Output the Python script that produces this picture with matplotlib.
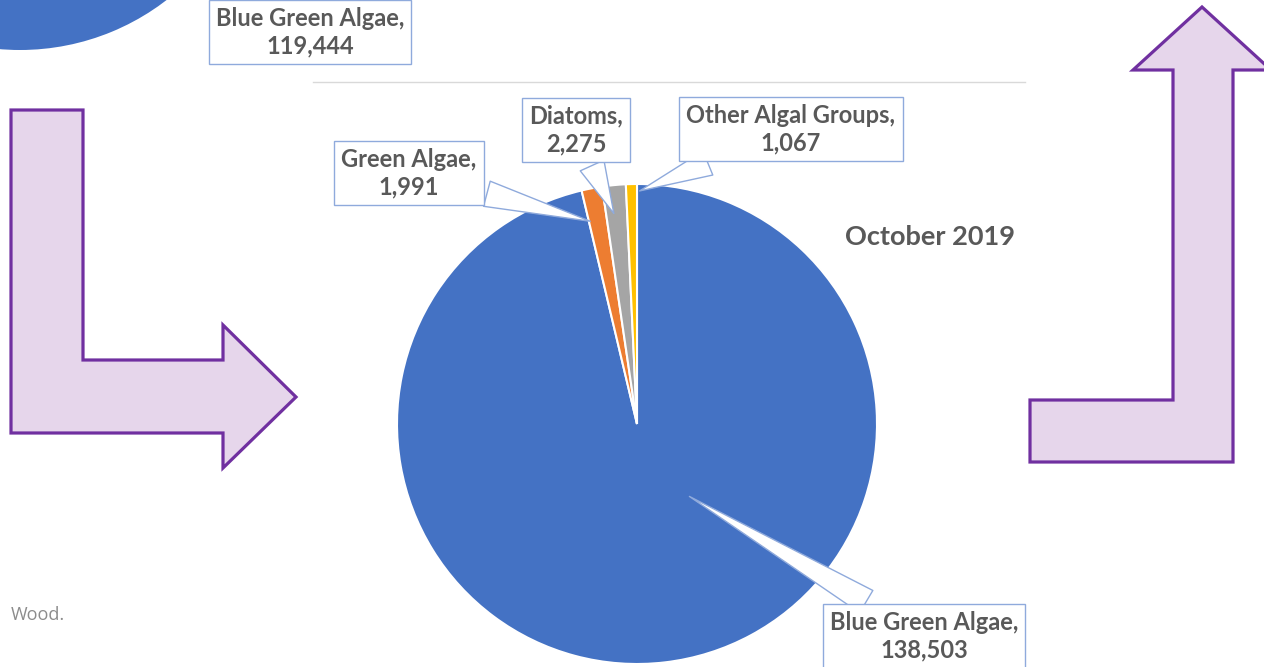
import matplotlib
matplotlib.use("Agg")
import matplotlib.pyplot as plt
from matplotlib.patches import Polygon

# Данные диаграммы (октябрь 2019)
groups = ["Blue Green Algae", "Green Algae", "Diatoms", "Other Algal Groups"]
counts = [138503, 1991, 2275, 1067]
colors = ["#4472C4", "#ED7D31", "#A5A5A5", "#FFC000"]

# Соседняя (обрезанная) диаграмма слева сверху
prev_groups = ["Blue Green Algae"]
prev_counts = [119444]

title = "October 2019"
note = "Wood."

W, H = 1264, 667


def P(x, y):
    # пиксели картинки -> координаты осей (ось y вверх)
    return (x, H - y)


fig = plt.figure(figsize=(W / 100, H / 100), dpi=100)
ax = fig.add_axes([0, 0, 1, 1])

# Обрезанная предыдущая диаграмма
ax.pie(prev_counts, colors=["#4472C4"], center=P(20, -190), radius=240,
       startangle=90, counterclock=False, frame=True)

# Основная круговая диаграмма
wedges, _ = ax.pie(counts, colors=colors, center=P(637, 424), radius=240,
                   startangle=90, counterclock=False, frame=True,
                   wedgeprops=dict(edgecolor="white", linewidth=1.5))

ax.set_xlim(0, W)
ax.set_ylim(0, H)
ax.set_aspect("equal")
ax.axis("off")

# Серая линия над областью графика
ax.plot([313, 1025], [H - 82, H - 82], color="#D9D9D9", lw=1)

# Выноски с подписями
box_centers = [(924, 636), (409, 173), (576, 130), (791, 129)]
tips = [(687, 495), (593, 222), (615, 216), (637, 192)]
label_font = dict(fontsize=17, fontweight="bold", family=["Lato", "DejaVu Sans"],
                  color="#595959", linespacing=1.25)
for name, val, bc, tip in zip(groups, counts, box_centers, tips):
    ax.annotate(f"{name},\n{val:,}", xy=P(*tip), xytext=P(*bc),
                ha="center", va="center", **label_font,
                bbox=dict(boxstyle="square,pad=0.3", fc="white", ec="#8FAADC", lw=1),
                arrowprops=dict(arrowstyle="wedge,tail_width=1.1,shrink_factor=0.5",
                                fc="white", ec="#8FAADC", lw=1,
                                connectionstyle="arc3"))

for name, val in zip(prev_groups, prev_counts):
    ax.text(310, H - 32, f"{name},\n{val:,}", ha="center", va="center", **label_font,
            bbox=dict(boxstyle="square,pad=0.3", fc="white", ec="#8FAADC", lw=1))

ax.text(930, H - 237, title, ha="center", va="center", fontsize=19.5,
        fontweight="bold", family=["Lato", "DejaVu Sans"], color="#595959")

ax.text(11, H - 615, note, ha="left", va="center", fontsize=13,
        family=["Open Sans", "DejaVu Sans"], color="#8C8C8C")

# Фиолетовые стрелки
arrow_style = dict(fc="#E6D6EB", ec="#7030A0", lw=2.3, joinstyle="miter")
left_arrow = [(11, 110), (83, 110), (83, 360), (223, 360), (223, 325), (296, 397),
              (223, 468), (223, 433), (11, 433)]
right_arrow = [(1030, 400), (1173, 400), (1173, 70), (1133, 70), (1202, 7),
               (1271, 70), (1233, 70), (1233, 462), (1030, 462)]
for pts in (left_arrow, right_arrow):
    ax.add_patch(Polygon([P(x, y) for x, y in pts], closed=True, **arrow_style))

fig.savefig("out.png", dpi=100)
plt.close(fig)
